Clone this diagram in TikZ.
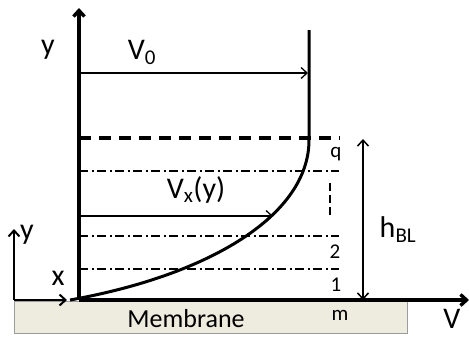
\documentclass[tikz,border=0pt]{standalone}
\usepackage{fontspec}
\setmainfont{Carlito}
\usetikzlibrary{arrows.meta,positioning,calc}
\definecolor{membr}{HTML}{EEEBDF}
\definecolor{membrline}{HTML}{9C9C9C}
\begin{document}
\begin{tikzpicture}[x=1pt,y=-1pt,>={Straight Barb[length=6pt,width=11pt]},
  axis/.style={line width=3.4pt},
  level/.style={line width=1.1pt,dash pattern=on 9pt off 3.5pt on 2pt off 3.5pt},
  lbl/.style={inner sep=0pt,font=\fontsize{30}{32}\selectfont},
  small/.style={inner sep=0pt,font=\fontsize{21}{23}\selectfont}]
  \useasboundingbox (0,0) rectangle (469,338);
  % membrane
  \node[draw=membrline,fill=membr,line width=1.2pt,minimum width=393pt,minimum height=32pt,inner sep=0pt,anchor=north west] (mem) at (14,301) {};
  \node[inner sep=0pt,font=\fontsize{26}{28}\selectfont] (memtxt) at (186,319) {Membrane};
  \node[small] (m) at (340,315) {m};
  % axes
  \coordinate (o) at (79,300); \coordinate (ytop) at (79,8); \coordinate (xend) at (469,300);
  \draw[axis,->] (o)--(ytop); \draw[axis,->] (o)--(xend);
  \node[lbl] (ylab) at (48,50) {y}; \node[lbl,anchor=north] (vlab) at (452,309) {V};
  \coordinate (s0) at (14,300); \coordinate (sy) at (14,229); \coordinate (sx) at (67,300);
  \draw[line width=2pt,->] (s0)--(sy); \draw[line width=2pt,->] (s0)--(sx);
  \node[lbl] (sylab) at (27,235) {y}; \node[lbl] (sxlab) at (58,278) {x};
  % levels
  \coordinate (bl) at (79,138); \coordinate (br) at (340,138);
  \draw[line width=3.2pt,dash pattern=on 12pt off 8pt] (bl)--(br);
  \foreach \n/\y in {q/171,two/236,one/269}{\coordinate (\n l) at (79,\y); \coordinate (\n r) at (339,\y); \draw[level] (\n l)--(\n r);}
  \node[small] (lq) at (336,154) {q}; \node[small] (l2) at (335,252) {2}; \node[small] (l1) at (336,285) {1};
  \coordinate (da) at (330,183); \coordinate (db) at (330,215);
  \draw[line width=1.1pt,dash pattern=on 8pt off 4pt] (da)--(db);
  % profile
  \coordinate (p0) at (70,300); \coordinate (p1) at (309,140); \coordinate (p2) at (309,30);
  \draw[line width=3pt] (p0) .. controls (210,275) and (309,215) .. (p1) -- (p2);
  \coordinate (v0a) at (79,73); \coordinate (v0b) at (308,73);
  \draw[line width=1.3pt,->] (v0a)--(v0b); \node[lbl] (v0lab) at (142,52) {V\textsubscript{0}};
  \coordinate (vxa) at (79,216); \coordinate (vxb) at (273,216);
  \draw[line width=1.3pt,->] (vxa)--(vxb); \node[lbl] (vxlab) at (196,190) {V\textsubscript{x}(y)};
  % boundary layer height
  \coordinate (ha) at (363,300); \coordinate (hb) at (363,139);
  \draw[line width=1.5pt,<->] (ha)--(hb);
  \node[lbl] (hlab) at (398,230) {h\textsubscript{BL}};
\end{tikzpicture}
\end{document}
